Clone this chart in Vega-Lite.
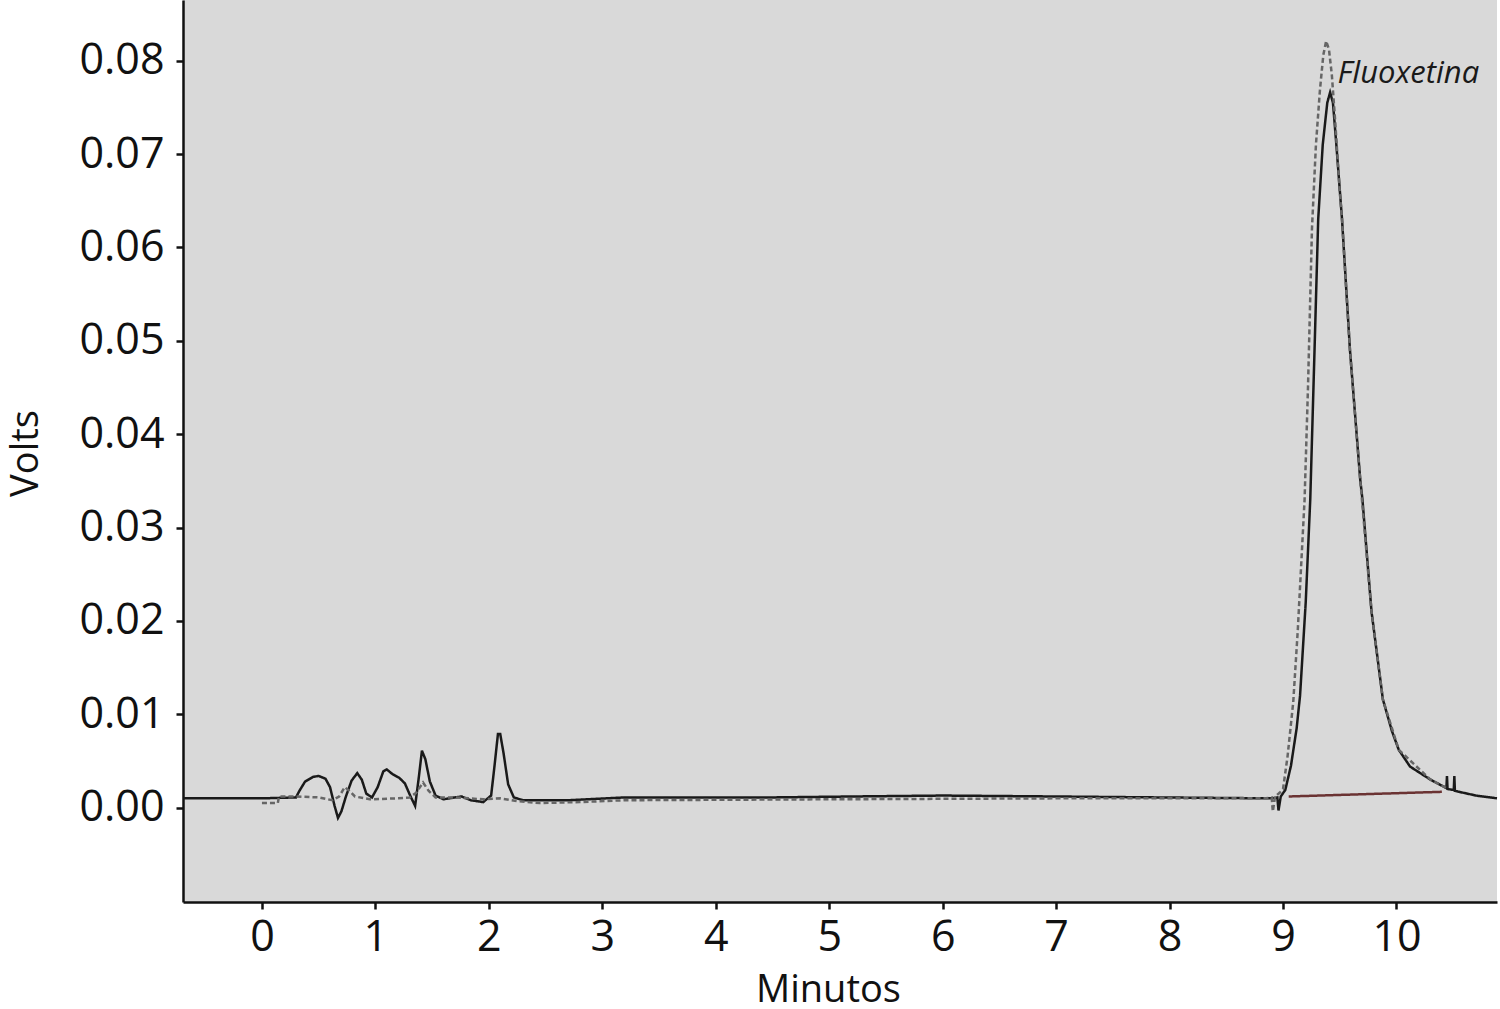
{
  "$schema": "https://vega.github.io/schema/vega-lite/v6.json",
  "autosize": {"type": "none"},
  "padding": {"left": 183, "top": 0, "right": 3, "bottom": 107},
  "width": 1314,
  "height": 902,
  "background": "white",
  "config": {
    "view": {"fill": "#d9d9d9", "stroke": null},
    "font": "Open Sans",
    "axis": {
      "domainColor": "#111111", "domainWidth": 2.5,
      "tickColor": "#111111", "tickWidth": 2.5, "tickSize": 7,
      "labelFont": "Open Sans", "labelFontSize": 43, "labelColor": "#111111",
      "titleFont": "Open Sans", "titleFontSize": 38, "titleFontWeight": "normal", "titleColor": "#111111",
      "grid": false
    }
  },
  "datasets": {
    "traces": [
      {"t": -0.69, "v": 0.001, "serie": "Muestra"},
      {"t": 0.0, "v": 0.001, "serie": "Muestra"},
      {"t": 0.3, "v": 0.0011, "serie": "Muestra"},
      {"t": 0.33, "v": 0.0018, "serie": "Muestra"},
      {"t": 0.38, "v": 0.0028, "serie": "Muestra"},
      {"t": 0.45, "v": 0.0033, "serie": "Muestra"},
      {"t": 0.5, "v": 0.0034, "serie": "Muestra"},
      {"t": 0.56, "v": 0.0031, "serie": "Muestra"},
      {"t": 0.6, "v": 0.0022, "serie": "Muestra"},
      {"t": 0.64, "v": 0.0002, "serie": "Muestra"},
      {"t": 0.67, "v": -0.0011, "serie": "Muestra"},
      {"t": 0.7, "v": -0.0004, "serie": "Muestra"},
      {"t": 0.74, "v": 0.0012, "serie": "Muestra"},
      {"t": 0.79, "v": 0.0029, "serie": "Muestra"},
      {"t": 0.84, "v": 0.0037, "serie": "Muestra"},
      {"t": 0.88, "v": 0.003, "serie": "Muestra"},
      {"t": 0.92, "v": 0.0015, "serie": "Muestra"},
      {"t": 0.97, "v": 0.0011, "serie": "Muestra"},
      {"t": 1.02, "v": 0.0022, "serie": "Muestra"},
      {"t": 1.07, "v": 0.0039, "serie": "Muestra"},
      {"t": 1.1, "v": 0.0041, "serie": "Muestra"},
      {"t": 1.15, "v": 0.0036, "serie": "Muestra"},
      {"t": 1.21, "v": 0.0032, "serie": "Muestra"},
      {"t": 1.26, "v": 0.0026, "serie": "Muestra"},
      {"t": 1.31, "v": 0.0012, "serie": "Muestra"},
      {"t": 1.35, "v": 0.0002, "serie": "Muestra"},
      {"t": 1.38, "v": 0.003, "serie": "Muestra"},
      {"t": 1.41, "v": 0.0061, "serie": "Muestra"},
      {"t": 1.44, "v": 0.0052, "serie": "Muestra"},
      {"t": 1.48, "v": 0.0028, "serie": "Muestra"},
      {"t": 1.53, "v": 0.0013, "serie": "Muestra"},
      {"t": 1.6, "v": 0.0009, "serie": "Muestra"},
      {"t": 1.7, "v": 0.0011, "serie": "Muestra"},
      {"t": 1.76, "v": 0.0012, "serie": "Muestra"},
      {"t": 1.84, "v": 0.0008, "serie": "Muestra"},
      {"t": 1.95, "v": 0.0006, "serie": "Muestra"},
      {"t": 2.02, "v": 0.0013, "serie": "Muestra"},
      {"t": 2.05, "v": 0.0045, "serie": "Muestra"},
      {"t": 2.08, "v": 0.0079, "serie": "Muestra"},
      {"t": 2.1, "v": 0.0079, "serie": "Muestra"},
      {"t": 2.13, "v": 0.0058, "serie": "Muestra"},
      {"t": 2.17, "v": 0.0025, "serie": "Muestra"},
      {"t": 2.22, "v": 0.0011, "serie": "Muestra"},
      {"t": 2.3, "v": 0.0008, "serie": "Muestra"},
      {"t": 2.7, "v": 0.0008, "serie": "Muestra"},
      {"t": 3.2, "v": 0.0011, "serie": "Muestra"},
      {"t": 4.5, "v": 0.0011, "serie": "Muestra"},
      {"t": 5.2, "v": 0.0012, "serie": "Muestra"},
      {"t": 6.0, "v": 0.0013, "serie": "Muestra"},
      {"t": 7.0, "v": 0.0012, "serie": "Muestra"},
      {"t": 7.9, "v": 0.0011, "serie": "Muestra"},
      {"t": 8.9, "v": 0.001, "serie": "Muestra"},
      {"t": 8.95, "v": 0.0011, "serie": "Muestra"},
      {"t": 8.96, "v": -0.0003, "serie": "Muestra"},
      {"t": 8.98, "v": 0.0012, "serie": "Muestra"},
      {"t": 9.02, "v": 0.0019, "serie": "Muestra"},
      {"t": 9.07, "v": 0.0045, "serie": "Muestra"},
      {"t": 9.12, "v": 0.0085, "serie": "Muestra"},
      {"t": 9.15, "v": 0.012, "serie": "Muestra"},
      {"t": 9.2, "v": 0.022, "serie": "Muestra"},
      {"t": 9.24, "v": 0.033, "serie": "Muestra"},
      {"t": 9.28, "v": 0.05, "serie": "Muestra"},
      {"t": 9.31, "v": 0.063, "serie": "Muestra"},
      {"t": 9.35, "v": 0.071, "serie": "Muestra"},
      {"t": 9.39, "v": 0.0755, "serie": "Muestra"},
      {"t": 9.415, "v": 0.0766, "serie": "Muestra"},
      {"t": 9.44, "v": 0.0755, "serie": "Muestra"},
      {"t": 9.47, "v": 0.071, "serie": "Muestra"},
      {"t": 9.52, "v": 0.063, "serie": "Muestra"},
      {"t": 9.59, "v": 0.049, "serie": "Muestra"},
      {"t": 9.68, "v": 0.0352, "serie": "Muestra"},
      {"t": 9.7, "v": 0.033, "serie": "Muestra"},
      {"t": 9.78, "v": 0.021, "serie": "Muestra"},
      {"t": 9.88, "v": 0.0116, "serie": "Muestra"},
      {"t": 9.96, "v": 0.0082, "serie": "Muestra"},
      {"t": 10.02, "v": 0.0062, "serie": "Muestra"},
      {"t": 10.12, "v": 0.0044, "serie": "Muestra"},
      {"t": 10.3, "v": 0.003, "serie": "Muestra"},
      {"t": 10.44, "v": 0.0021, "serie": "Muestra"},
      {"t": 10.445, "v": 0.0034, "serie": "Muestra"},
      {"t": 10.45, "v": 0.002, "serie": "Muestra"},
      {"t": 10.505, "v": 0.0019, "serie": "Muestra"},
      {"t": 10.51, "v": 0.0034, "serie": "Muestra"},
      {"t": 10.515, "v": 0.0018, "serie": "Muestra"},
      {"t": 10.7, "v": 0.0013, "serie": "Muestra"},
      {"t": 10.886, "v": 0.001, "serie": "Muestra"},

      {"t": 0.0, "v": 0.0005, "serie": "Patrón"},
      {"t": 0.14, "v": 0.0005, "serie": "Patrón"},
      {"t": 0.15, "v": 0.0012, "serie": "Patrón"},
      {"t": 0.3, "v": 0.0012, "serie": "Patrón"},
      {"t": 0.5, "v": 0.0011, "serie": "Patrón"},
      {"t": 0.62, "v": 0.0008, "serie": "Patrón"},
      {"t": 0.68, "v": 0.0012, "serie": "Patrón"},
      {"t": 0.73, "v": 0.0022, "serie": "Patrón"},
      {"t": 0.77, "v": 0.0018, "serie": "Patrón"},
      {"t": 0.82, "v": 0.0012, "serie": "Patrón"},
      {"t": 0.95, "v": 0.0009, "serie": "Patrón"},
      {"t": 1.2, "v": 0.001, "serie": "Patrón"},
      {"t": 1.3, "v": 0.0011, "serie": "Patrón"},
      {"t": 1.36, "v": 0.0016, "serie": "Patrón"},
      {"t": 1.42, "v": 0.0027, "serie": "Patrón"},
      {"t": 1.47, "v": 0.0018, "serie": "Patrón"},
      {"t": 1.53, "v": 0.0011, "serie": "Patrón"},
      {"t": 1.7, "v": 0.0011, "serie": "Patrón"},
      {"t": 1.95, "v": 0.0009, "serie": "Patrón"},
      {"t": 2.1, "v": 0.001, "serie": "Patrón"},
      {"t": 2.25, "v": 0.0007, "serie": "Patrón"},
      {"t": 2.45, "v": 0.0005, "serie": "Patrón"},
      {"t": 2.8, "v": 0.0006, "serie": "Patrón"},
      {"t": 3.2, "v": 0.0008, "serie": "Patrón"},
      {"t": 5.0, "v": 0.0009, "serie": "Patrón"},
      {"t": 7.0, "v": 0.001, "serie": "Patrón"},
      {"t": 8.85, "v": 0.001, "serie": "Patrón"},
      {"t": 8.9, "v": 0.0011, "serie": "Patrón"},
      {"t": 8.91, "v": -0.0004, "serie": "Patrón"},
      {"t": 8.93, "v": 0.0012, "serie": "Patrón"},
      {"t": 8.97, "v": 0.0016, "serie": "Patrón"},
      {"t": 9.0, "v": 0.002, "serie": "Patrón"},
      {"t": 9.04, "v": 0.0055, "serie": "Patrón"},
      {"t": 9.09, "v": 0.0113, "serie": "Patrón"},
      {"t": 9.13, "v": 0.019, "serie": "Patrón"},
      {"t": 9.16, "v": 0.026, "serie": "Patrón"},
      {"t": 9.19, "v": 0.033, "serie": "Patrón"},
      {"t": 9.22, "v": 0.045, "serie": "Patrón"},
      {"t": 9.255, "v": 0.062, "serie": "Patrón"},
      {"t": 9.29, "v": 0.071, "serie": "Patrón"},
      {"t": 9.325, "v": 0.0768, "serie": "Patrón"},
      {"t": 9.355, "v": 0.0806, "serie": "Patrón"},
      {"t": 9.38, "v": 0.0821, "serie": "Patrón"},
      {"t": 9.405, "v": 0.0812, "serie": "Patrón"},
      {"t": 9.43, "v": 0.0785, "serie": "Patrón"},
      {"t": 9.46, "v": 0.0735, "serie": "Patrón"},
      {"t": 9.5, "v": 0.066, "serie": "Patrón"},
      {"t": 9.52, "v": 0.063, "serie": "Patrón"},
      {"t": 9.59, "v": 0.049, "serie": "Patrón"},
      {"t": 9.68, "v": 0.0352, "serie": "Patrón"},
      {"t": 9.78, "v": 0.021, "serie": "Patrón"},
      {"t": 9.88, "v": 0.0116, "serie": "Patrón"},
      {"t": 10.02, "v": 0.0062, "serie": "Patrón"},
      {"t": 10.3, "v": 0.003, "serie": "Patrón"},
      {"t": 10.44, "v": 0.0021, "serie": "Patrón"},

      {"t": 9.05, "v": 0.0012, "serie": "Base"},
      {"t": 10.4, "v": 0.0017, "serie": "Base"}
    ],
    "labels": [
      {"t": 9.48, "v": 0.0786, "label": "Fluoxetina"}
    ]
  },
  "layer": [
    {
      "data": {"name": "traces"},
      "mark": {"type": "line", "strokeWidth": 2.5, "interpolate": "linear"},
      "encoding": {
        "x": {
          "field": "t", "type": "quantitative",
          "scale": {"domain": [-0.696, 10.886], "nice": false, "zero": false},
          "axis": {
            "values": [0, 1, 2, 3, 4, 5, 6, 7, 8, 9, 10], "format": "d",
            "labelPadding": 7, "title": "Minutos",
            "titleX": 645, "titleY": 88, "titleBaseline": "middle", "titleAlign": "center"
          }
        },
        "y": {
          "field": "v", "type": "quantitative",
          "scale": {"domain": [-0.0101, 0.0865], "nice": false, "zero": false},
          "axis": {
            "values": [0, 0.01, 0.02, 0.03, 0.04, 0.05, 0.06, 0.07, 0.08], "format": ".2f",
            "labelPadding": 12, "title": "Volts",
            "titleX": -157, "titleY": 453, "titleAngle": 270,
            "titleBaseline": "middle", "titleAlign": "center"
          }
        },
        "color": {
          "field": "serie", "type": "nominal",
          "scale": {"domain": ["Patrón", "Base", "Muestra"], "range": ["#666666", "#6b3333", "#1a1a1a"]},
          "legend": null
        },
        "strokeDash": {
          "field": "serie", "type": "nominal",
          "scale": {"domain": ["Patrón", "Base", "Muestra"], "range": [[5, 3], [1, 0], [1, 0]]},
          "legend": null
        },
        "order": {"field": "serie", "sort": "descending"}
      }
    },
    {
      "data": {"name": "labels"},
      "mark": {"type": "text", "align": "left", "baseline": "middle", "fontSize": 31, "fontStyle": "italic", "font": "Open Sans", "color": "#1a1a1a"},
      "encoding": {
        "x": {"field": "t", "type": "quantitative"},
        "y": {"field": "v", "type": "quantitative"},
        "text": {"field": "label"}
      }
    }
  ]
}
